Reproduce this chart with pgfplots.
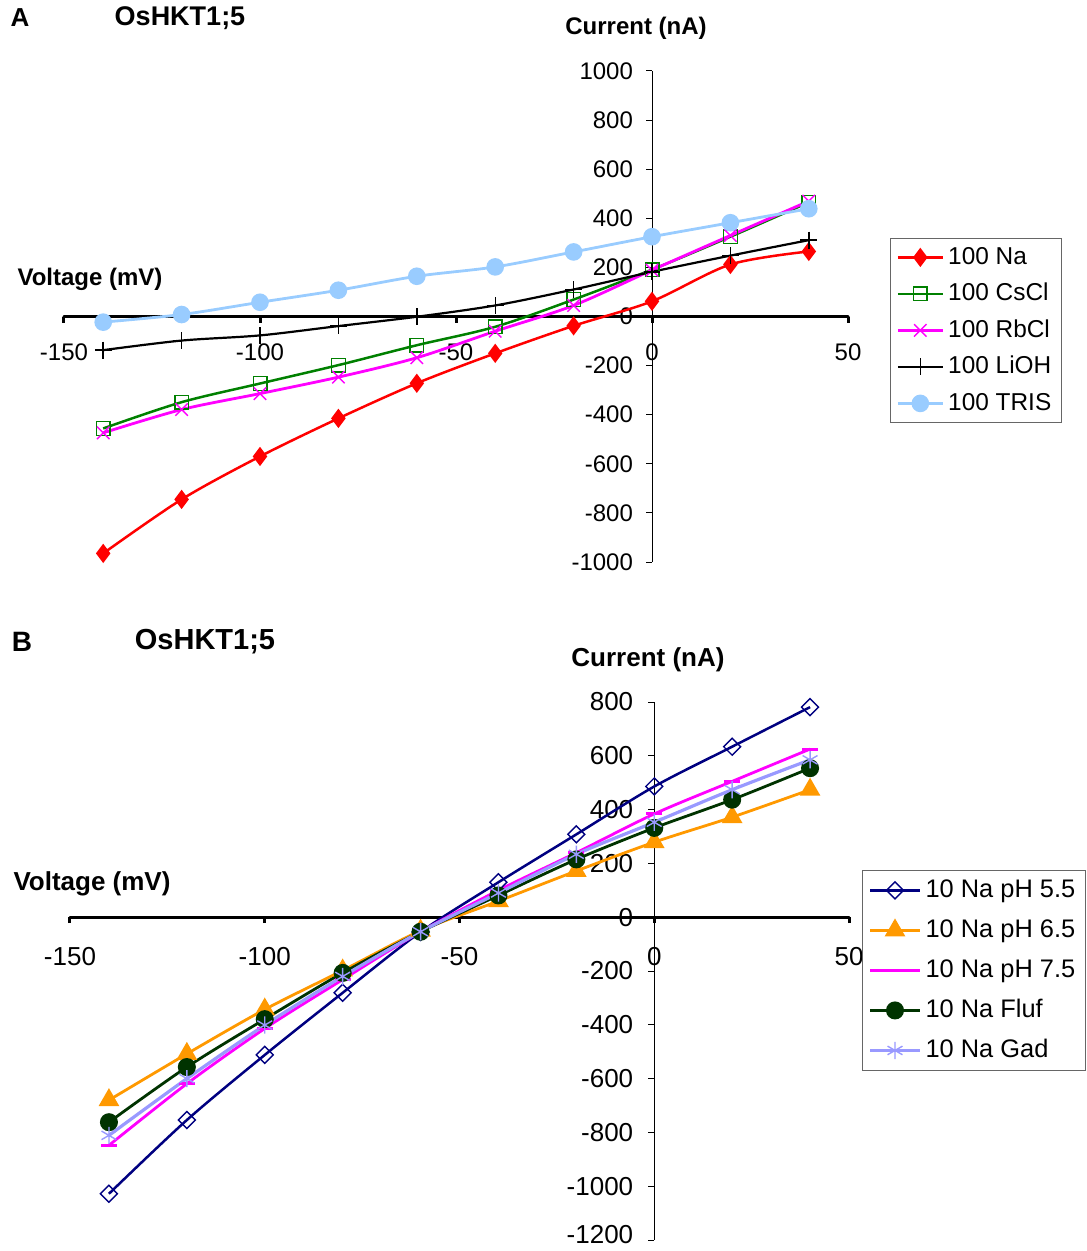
\documentclass[border=0pt]{standalone}
\usepackage{fontspec}
\setmainfont{Liberation Sans}
\usepackage{pgfplots}
\pgfplotsset{compat=1.18}
\definecolor{cNa}{RGB}{255,0,0}
\definecolor{cCs}{RGB}{0,128,0}
\definecolor{cRb}{RGB}{255,0,255}
\definecolor{cTris}{RGB}{153,204,255}
\definecolor{cNavy}{RGB}{0,0,128}
\definecolor{cOrange}{RGB}{255,153,0}
\definecolor{cDkGreen}{RGB}{0,51,0}
\definecolor{cLav}{RGB}{153,153,255}
\pgfplotsset{
 myax/.style={scale only axis, axis lines=middle, axis line style={-}, clip=false,
  hide obscured x ticks=false, hide obscured y ticks=false,
  tick align=outside, major tick length=3pt,
  xtick style={line width=1.5pt,black}, ytick style={line width=0.5pt,black},
  x axis line style={line width=1.5pt, line cap=round}, y axis line style={line width=0.5pt},
  xtick={-150,-100,-50,0,50}, xticklabels={-150,-100,-50,0,50},
  every axis plot/.append style={smooth, tension=0.5},
  legend cell align=left},
}
\begin{document}
\begin{tikzpicture}
\useasboundingbox (0,0) rectangle (543pt,-625.5pt);
\pgfplotstableread{
x Na Cs Rb Li Tr
-140 -965 -456 -474 -137 -23
-120 -745 -349 -379 -98 8
-100 -570 -273 -314 -77 58
-80 -415 -198 -247 -39 107
-60 -272 -117 -168 -1 164
-40 -150 -42 -60 45 202
-20 -38 69 45 110 263
0 62 191 189 182 325
20 212 325 330 248 382
40 265 465 470 311 439
}\tA
\pgfplotstableread{
x p55 p65 p75 Fl Gd
-140 -1028 -680 -848 -762 -811
-120 -754 -508 -619 -557 -600
-100 -512 -343 -414 -379 -401
-80 -281 -198 -232 -207 -220
-60 -55 -50 -54 -54 -54
-40 130 60 100 81 90
-20 308 172 240 215 234
0 486 279 384 332 353
20 634 372 505 437 474
40 781 474 625 554 585
}\tB
\begin{axis}[myax, at={(32pt,-281pt)}, anchor=south west, width=392pt, height=245.5pt,
 xmin=-150, xmax=50, ymin=-1000, ymax=1000,
 ytick={-1000,-800,...,1000}, yticklabels={-1000,-800,-600,-400,-200,0,200,400,600,800,1000},
 tick label style={font=\fontsize{12}{14}\selectfont},
 xticklabel style={yshift=-7pt},
 yticklabel style={xshift=-3pt},
 legend image code/.code={\draw[mark repeat=2,mark phase=2,#1] plot coordinates {(0pt,0pt) (11.25pt,0pt) (22.5pt,0pt)};},
 legend style={at={(1.0536,0.6599)}, anchor=north west, draw=black!60, font=\fontsize{12.2}{14}\selectfont,
  row sep=3.25pt, inner xsep=3pt, inner ysep=2pt, nodes={inner sep=2pt, text height=9pt, text depth=2pt}},
]
\addplot[cNa, line width=1.25pt, mark=diamond*, mark size=3.8pt, mark options={solid}] table[x=x,y=Na]{\tA};
\addlegendentry{100 Na}
\addplot[cCs, line width=1.25pt, mark=square, mark size=3.4pt, mark options={solid,line width=0.7pt}] table[x=x,y=Cs]{\tA};
\addlegendentry{100 CsCl}
\addplot[cRb, line width=1.4pt, mark=x, mark size=4.4pt, mark options={solid,line width=0.7pt}] table[x=x,y=Rb]{\tA};
\addlegendentry{100 RbCl}
\addplot[black, line width=1.1pt, mark=+, mark size=4.2pt, mark options={solid,line width=0.7pt}] table[x=x,y=Li]{\tA};
\addlegendentry{100 LiOH}
\addplot[cTris, line width=1.4pt, mark=*, mark size=3.7pt, mark options={solid}] table[x=x,y=Tr]{\tA};
\addlegendentry{100 TRIS}
\end{axis}
\begin{axis}[myax, at={(35pt,-620pt)}, anchor=south west, width=389.5pt, height=269pt,
 xmin=-150, xmax=50, ymin=-1200, ymax=800,
 ytick={-1000,-800,...,800}, yticklabels={-1000,-800,-600,-400,-200,0,200,400,600,800},
 extra y ticks={-1200}, extra y tick labels={-1200},
 extra y tick style={yticklabel style={yshift=2.5pt}},
 tick label style={font=\fontsize{13}{15}\selectfont},
 xticklabel style={yshift=-8.5pt},
 yticklabel style={xshift=-4pt, inner ysep=0.5pt},
 legend image code/.code={\draw[mark repeat=2,mark phase=2,#1] plot coordinates {(0pt,0pt) (12.5pt,0pt) (25pt,0pt)};},
 legend style={at={(1.0167,0.6877)}, anchor=north west, draw=black!60, font=\fontsize{12.7}{14}\selectfont,
  row sep=4pt, inner xsep=3pt, inner ysep=2pt, nodes={inner sep=2pt, text height=9.5pt, text depth=2.5pt}},
]
\addplot[cNavy, line width=1.25pt, mark=square, mark size=3pt, mark options={solid,rotate=45,line width=0.7pt}] table[x=x,y=p55]{\tB};
\addlegendentry{10 Na pH 5.5}
\addplot[cOrange, line width=1.4pt, mark=triangle*, mark size=4.6pt, mark options={solid}] table[x=x,y=p65]{\tB};
\addlegendentry{10 Na pH 6.5}
\addplot[cRb, line width=1.4pt, mark=-, mark size=4pt, mark options={solid,line width=1.5pt}] table[x=x,y=p75]{\tB};
\addlegendentry{10 Na pH 7.5}
\addplot[cDkGreen, line width=1.4pt, mark=*, mark size=3.8pt, mark options={solid}] table[x=x,y=Fl]{\tB};
\addlegendentry{10 Na Fluf}
\addplot[cLav, line width=1.6pt, mark=asterisk, mark size=4.3pt, mark options={solid,line width=0.7pt}] table[x=x,y=Gd]{\tB};
\addlegendentry{10 Na Gad}
\end{axis}
\node[font=\bfseries\fontsize{13}{15}\selectfont] at (10pt,-9pt) {A};
\node[font=\bfseries\fontsize{13.5}{15}\selectfont] at (90pt,-9pt) {OsHKT1;5};
\node[font=\bfseries\fontsize{12}{14}\selectfont] at (318pt,-14pt) {Current (nA)};
\node[font=\bfseries\fontsize{12}{14}\selectfont] at (45pt,-139.5pt) {Voltage (mV)};
\node[font=\bfseries\fontsize{14}{16}\selectfont] at (11pt,-321pt) {B};
\node[font=\bfseries\fontsize{14.5}{16}\selectfont] at (102.5pt,-321pt) {OsHKT1;5};
\node[font=\bfseries\fontsize{13}{15}\selectfont] at (324pt,-330pt) {Current (nA)};
\node[font=\bfseries\fontsize{13}{15}\selectfont] at (46pt,-442pt) {Voltage (mV)};
\end{tikzpicture}
\end{document}
